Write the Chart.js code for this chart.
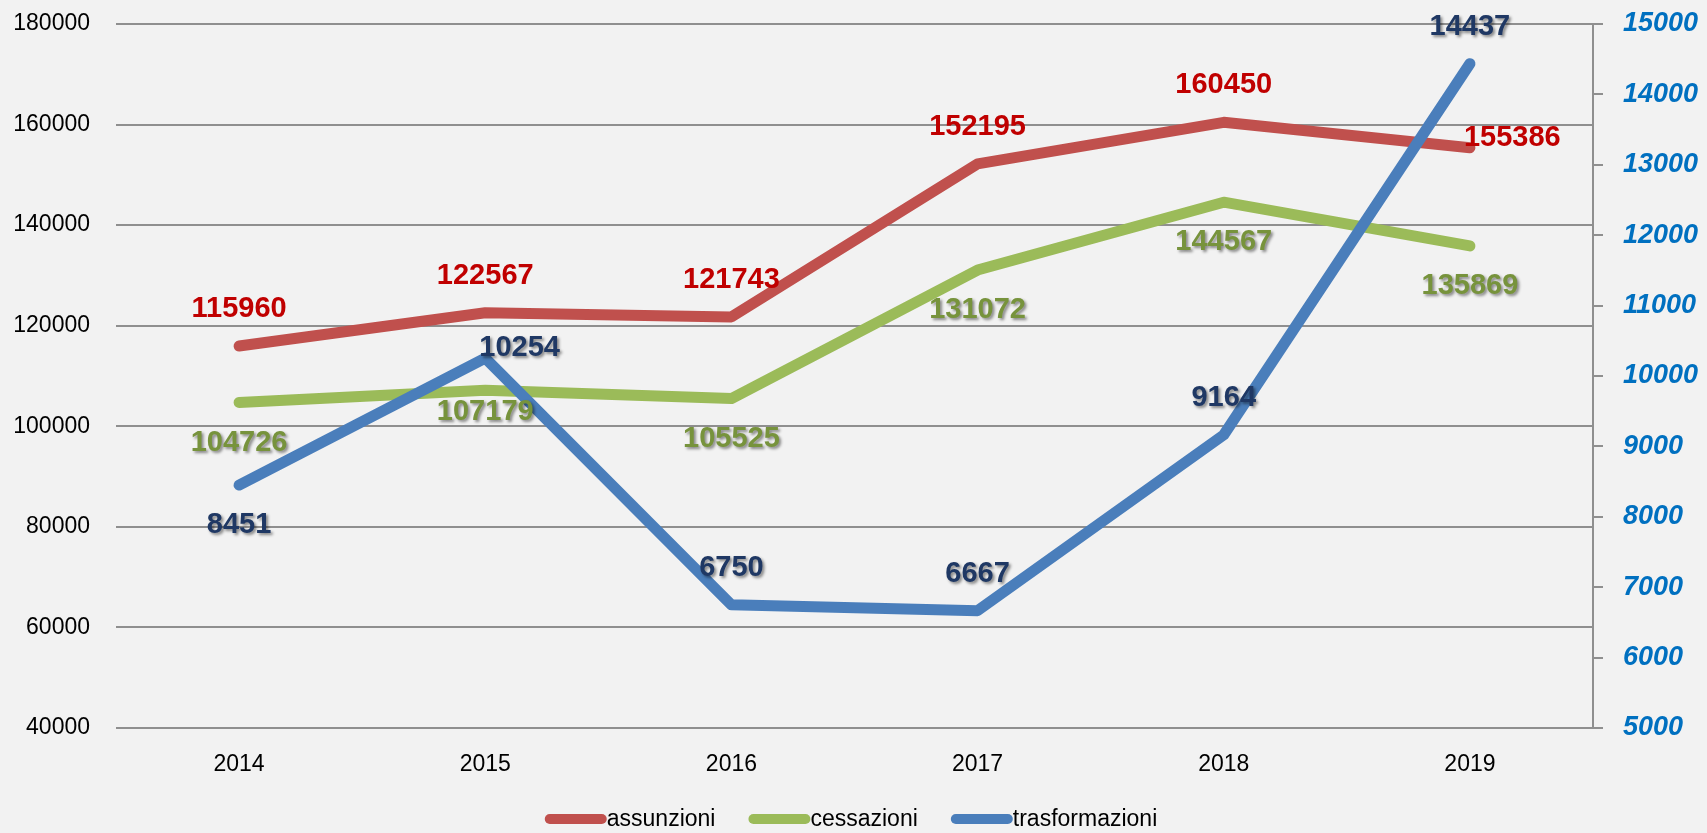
<!DOCTYPE html>
<html>
<head>
<meta charset="utf-8">
<script src="https://cdn.jsdelivr.net/npm/chart.js@4/dist/chart.umd.min.js"></script>
<style>
    html, body { margin: 0; padding: 0; background: #f2f2f2; }
    #wrap { width: 1707px; height: 833px; }
</style>
</head>
<body>
<div id="wrap"><canvas id="chart" width="1707" height="833"></canvas></div>
<script>
// data
const years = ['2014', '2015', '2016', '2017', '2018', '2019'];
const assunzioni = [115960, 122567, 121743, 152195, 160450, 155386];
const cessazioni = [104726, 107179, 105525, 131072, 144567, 135869];
const trasformazioni = [8451, 10254, 6750, 6667, 9164, 14437];

// axis ranges
const leftRange = [40000, 180000, 20000];
const rightRange = [5000, 15000, 1000];

// where each value label sits relative to its point
const posAssunzioni = ['above', 'above', 'above', 'above', 'above', 'right'];
const posCessazioni = ['below', 'near', 'below', 'below', 'below', 'below'];
const posTrasformazioni = ['below', 'right', 'above', 'above', 'above', 'above'];

const FONT = "'Liberation Sans', Arial, sans-serif";

const bgPlugin = {
    id: 'bg',
    beforeDraw(chart) {
        const ctx = chart.ctx;
        ctx.save();
        ctx.fillStyle = '#f2f2f2';
        ctx.fillRect(0, 0, chart.width, chart.height);
        ctx.restore();
    }
};

const valueLabels = {
    id: 'valueLabels',
    afterDatasetsDraw(chart) {
        const ctx = chart.ctx;
        chart.data.datasets.forEach((ds, i) => {
            const meta = chart.getDatasetMeta(i);
            meta.data.forEach((pt, j) => {
                const pos = ds.labelPos[j];
                let x = pt.x, y = pt.y;
                ctx.save();
                ctx.font = 'bold 29px ' + FONT;
                ctx.textBaseline = 'middle';
                ctx.textAlign = 'center';
                if (pos === 'above') y -= 37;
                else if (pos === 'below') y += 40;
                else if (pos === 'near') y += 22;
                else if (pos === 'right') { ctx.textAlign = 'left'; x -= 6; y -= 10; }
                if (ds.labelShadow) {
                    ctx.shadowColor = 'rgba(0,0,0,0.45)';
                    ctx.shadowOffsetX = 2;
                    ctx.shadowOffsetY = 2;
                    ctx.shadowBlur = 3;
                }
                ctx.fillStyle = ds.labelColor;
                ctx.fillText(String(ds.data[j]), x, y);
                ctx.restore();
            });
        });
    }
};

// legend: thick rounded line with the name right after it
const bottomLegend = {
    id: 'bottomLegend',
    afterDraw(chart) {
        const ctx = chart.ctx;
        const lineW = 62, gap = 33, cy = 819, centerX = 851;
        ctx.save();
        ctx.font = '23px ' + FONT;
        const items = chart.data.datasets.map(ds => ({
            text: ds.label, color: ds.borderColor, w: ctx.measureText(ds.label).width
        }));
        const total = items.reduce((s, it) => s + lineW + it.w, 0) + gap * (items.length - 1);
        let x = centerX - total / 2;
        items.forEach(it => {
            ctx.strokeStyle = it.color;
            ctx.lineWidth = 10;
            ctx.lineCap = 'round';
            ctx.beginPath();
            ctx.moveTo(x + 5, cy);
            ctx.lineTo(x + lineW - 5, cy);
            ctx.stroke();
            ctx.fillStyle = '#000';
            ctx.textBaseline = 'middle';
            ctx.textAlign = 'left';
            ctx.fillText(it.text, x + lineW, cy + 1);
            x += lineW + it.w + gap;
        });
        ctx.restore();
    }
};

const lineStyle = {
    borderWidth: 11,
    borderCapStyle: 'round',
    borderJoinStyle: 'round',
    pointRadius: 0,
    pointHoverRadius: 0,
    tension: 0,
    fill: false
};

const plain = v => String(v);

// fixed axis widths, and no extra top padding from the tick labels
function fixWidth(w) {
    return function (scale) {
        scale.width = w;
        scale.paddingTop = 0;
        scale.paddingBottom = 0;
    };
}

new Chart(document.getElementById('chart'), {
    type: 'line',
    data: {
        labels: years,
        datasets: [{
            ...lineStyle,
            label: 'assunzioni',
            data: assunzioni,
            borderColor: '#c0504d',
            yAxisID: 'y',
            order: 2,
            labelPos: posAssunzioni,
            labelColor: '#c00000',
            labelShadow: false
        }, {
            ...lineStyle,
            label: 'cessazioni',
            data: cessazioni,
            borderColor: '#9bbb59',
            yAxisID: 'y',
            order: 1,
            labelPos: posCessazioni,
            labelColor: '#77933c',
            labelShadow: true
        }, {
            ...lineStyle,
            label: 'trasformazioni',
            data: trasformazioni,
            borderColor: '#4a7ebb',
            yAxisID: 'y1',
            order: 0,
            labelPos: posTrasformazioni,
            labelColor: '#1f3864',
            labelShadow: true
        }]
    },
    options: {
        responsive: false,
        animation: false,
        layout: { autoPadding: false, padding: { top: 24, left: 0, right: 0, bottom: 0 } },
        plugins: {
            legend: { display: false },
            tooltip: { enabled: false }
        },
        scales: {
            x: {
                offset: true,
                grid: { display: false },
                border: { display: false },
                ticks: { color: '#000', font: { family: FONT, size: 23 }, padding: 15 },
                afterFit(scale) { scale.height = 105; }
            },
            y: {
                position: 'left',
                min: leftRange[0],
                max: leftRange[1],
                ticks: { stepSize: leftRange[2], callback: plain, color: '#000', font: { family: FONT, size: 23 }, padding: 26 },
                grid: { color: '#8f8f8f', lineWidth: 2, drawTicks: false },
                border: { display: false },
                afterFit: fixWidth(116)
            },
            y1: {
                position: 'right',
                min: rightRange[0],
                max: rightRange[1],
                ticks: {
                    stepSize: rightRange[2],
                    callback: plain,
                    color: '#0070c0',
                    font: { family: FONT, size: 27, weight: 'bold', style: 'italic' },
                    padding: 20
                },
                grid: { drawOnChartArea: false, drawTicks: true, tickLength: 10, color: '#8f8f8f', lineWidth: 2 },
                border: { display: true, color: '#8f8f8f', width: 2 },
                afterFit: fixWidth(114)
            }
        }
    },
    plugins: [bgPlugin, valueLabels, bottomLegend]
});
</script>
</body>
</html>
